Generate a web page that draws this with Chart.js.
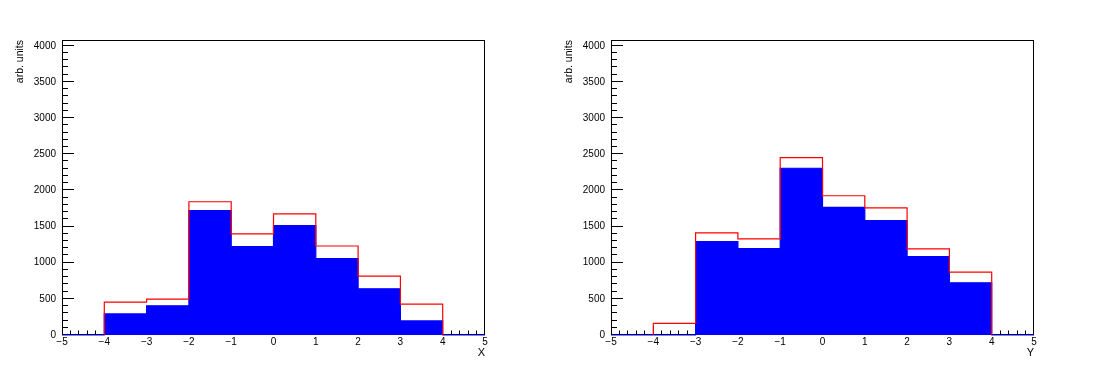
<!DOCTYPE html>
<html><head><meta charset="utf-8">
<script src="https://cdn.jsdelivr.net/npm/chart.js@4.4.1/dist/chart.umd.min.js"></script>
<style>
html,body{margin:0;padding:0;background:#fff;}
#wrap{position:relative;width:1098px;height:376px;background:#fff;}
canvas{position:absolute;top:0;}
</style></head><body>
<div id="wrap">
<canvas id="c1" width="549" height="376" style="left:0px"></canvas>
<canvas id="c2" width="549" height="376" style="left:549px"></canvas>
</div>
<script>
// ---- data ----
const binLowEdges = [-4, -3, -2, -1, 0, 1, 2, 3];
const binWidth = 1;
const xRedValues  = [454, 495, 1843, 1398, 1676, 1231, 815, 426];
const xBlueValues = [292, 403, 1722, 1222, 1514, 1056, 639, 194];
const yRedValues  = [162, 1412, 1329, 2454, 1926, 1759, 1190, 870];
const yBlueValues = [0, 1292, 1194, 2306, 1764, 1583, 1083, 722];
const xAxisRange = [-5, 5];
const yAxisRange = [0, 4080];
const xTickValues = [-5, -4, -3, -2, -1, 0, 1, 2, 3, 4, 5];
const yTickValues = [0, 500, 1000, 1500, 2000, 2500, 3000, 3500, 4000];
const panelTitles = ['X', 'Y'];
const yAxisTitle = 'arb. units';

const FONT = '"Liberation Sans", Arial, Helvetica, sans-serif';

function redOutline(values) {
  const pts = [{x: binLowEdges[0], y: 0}];
  values.forEach((v, i) => {
    pts.push({x: binLowEdges[i], y: v});
    pts.push({x: binLowEdges[i] + binWidth, y: v});
  });
  pts.push({x: binLowEdges[binLowEdges.length - 1] + binWidth, y: 0});
  return pts;
}
function blueFill(values) {
  const pts = [{x: xAxisRange[0], y: 0}, {x: binLowEdges[0], y: 0}];
  values.forEach((v, i) => {
    pts.push({x: binLowEdges[i], y: v});
    pts.push({x: binLowEdges[i] + binWidth, y: v});
  });
  pts.push({x: binLowEdges[binLowEdges.length - 1] + binWidth, y: 0});
  pts.push({x: xAxisRange[1], y: 0});
  return pts;
}

const frameTicks = {
  id: 'frameTicks',
  beforeDatasetsDraw(chart) {
    const {ctx, chartArea: a, scales: {x, y}} = chart;
    ctx.save();
    ctx.strokeStyle = '#000';
    ctx.lineWidth = 1;
    ctx.beginPath();
    const yMajor = yTickValues[1] - yTickValues[0];
    const yMinor = yMajor / 5;
    const nY = Math.round(yTickValues[yTickValues.length - 1] / yMinor);
    for (let i = 0; i <= nY; i++) {
      const v = i * yMinor;
      const py = Math.floor(y.getPixelForValue(v) - 0.5) + 0.5;
      const len = (i % 5 === 0) ? 12 : 6;
      ctx.moveTo(a.left, py);
      ctx.lineTo(a.left + len, py);
    }
    const xMajor = xTickValues[1] - xTickValues[0];
    const xMinor = xMajor / 5;
    const nX = Math.round((xAxisRange[1] - xAxisRange[0]) / xMinor);
    for (let i = 0; i <= nX; i++) {
      const v = xAxisRange[0] + i * xMinor;
      let px = Math.round(x.getPixelForValue(v) - 0.5) + 0.5;
      px = Math.min(Math.max(px, a.left + 0.5), a.right - 0.5);
      const len = (i % 5 === 0) ? 9 : 4.5;
      ctx.moveTo(px, a.bottom);
      ctx.lineTo(px, a.bottom - len);
    }
    ctx.stroke();
    ctx.strokeRect(a.left + 0.5, a.top + 0.5, a.right - a.left - 1, a.bottom - a.top - 1);
    ctx.restore();
  }
};

function makeChart(id, red, blue, xTitle) {
  return new Chart(document.getElementById(id), {
    type: 'line',
    data: {
      datasets: [
        {
          data: redOutline(red),
          borderColor: '#ff0000',
          borderWidth: 1.2,
          pointRadius: 0,
          fill: false,
          tension: 0,
          clip: false,
          order: 0
        },
        {
          data: blueFill(blue),
          borderColor: '#0000ff',
          backgroundColor: '#0000ff',
          borderWidth: 1.2,
          pointRadius: 0,
          fill: 'origin',
          tension: 0,
          clip: false,
          order: 1
        }
      ]
    },
    options: {
      responsive: false,
      animation: false,
      devicePixelRatio: 1,
      layout: {padding: {left: 0, top: 40, right: 64, bottom: 0}},
      plugins: {legend: {display: false}, tooltip: {enabled: false}},
      scales: {
        x: {
          type: 'linear',
          min: xAxisRange[0], max: xAxisRange[1],
          grid: {display: false, drawTicks: false},
          border: {display: false},
          afterBuildTicks: s => { s.ticks = xTickValues.map(v => ({value: v})); },
          afterFit: s => { s.height = 41; },
          ticks: {
            color: '#000', padding: 1, maxRotation: 0, autoSkip: false,
            font: {family: FONT, size: 10},
            callback: v => String(v).replace('-', '\u2212')
          },
          title: {
            display: true, text: xTitle, align: 'end', color: '#000',
            font: {family: FONT, size: 11}, padding: {top: 0, bottom: 16}
          }
        },
        y: {
          type: 'linear',
          min: yAxisRange[0], max: yAxisRange[1],
          grid: {display: false, drawTicks: false},
          border: {display: false},
          afterBuildTicks: s => { s.ticks = yTickValues.map(v => ({value: v})); },
          afterFit: s => { s.width = 62; },
          ticks: {
            color: '#000', padding: 6, autoSkip: false,
            font: {family: FONT, size: 10},
            callback: v => String(v)
          },
          title: {
            display: true, text: yAxisTitle, align: 'end', color: '#000',
            font: {family: FONT, size: 10.5}, padding: {top: 14, bottom: 0}
          }
        }
      }
    },
    plugins: [frameTicks]
  });
}

makeChart('c1', xRedValues, xBlueValues, panelTitles[0]);
makeChart('c2', yRedValues, yBlueValues, panelTitles[1]);
</script>
</body></html>
